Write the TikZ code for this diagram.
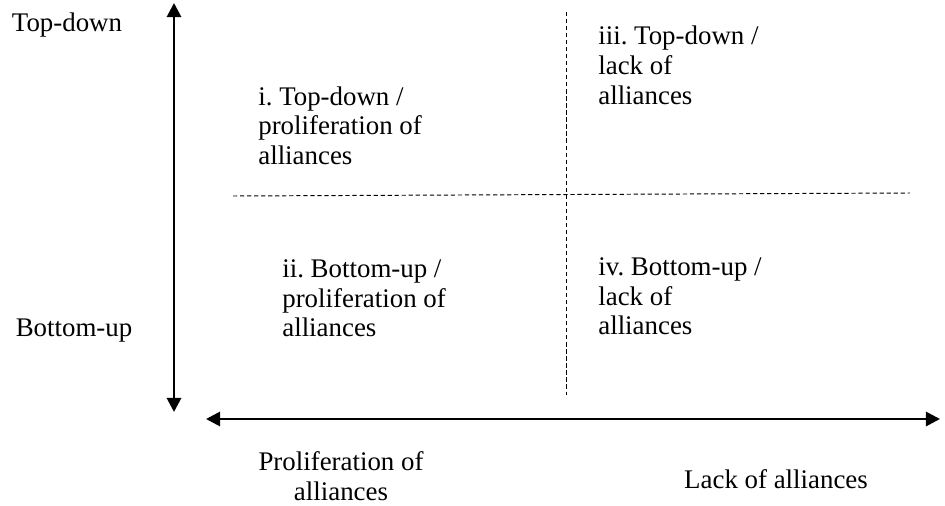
\documentclass[tikz,border=0pt]{standalone}
\usepackage{fontspec}
\setmainfont{Liberation Serif}
\frenchspacing
\usetikzlibrary{arrows.meta,positioning}
\tikzset{
  axisarrow/.style={{Triangle[length=8pt,width=8pt]}-{Triangle[length=8pt,width=8pt]},line width=1.6pt,black},
  splitline/.style={dash pattern=on 2.4pt off 1.6pt,line width=0.55pt,black},
  cellnote/.style={align=left,anchor=north west,inner sep=0pt},
  axisnote/.style={align=center,inner sep=0pt},
}

\begin{document}
\begin{tikzpicture}[x=0.02cm,y=-0.02cm,
  font=\fontsize{15.3}{17}\selectfont]
\useasboundingbox (0,0) rectangle (945,506);

% =================================================================
% axes
% =================================================================
\coordinate (vtop) at (174,3);
\coordinate (vbot) at (174,412);
\coordinate (hleft) at (206,419);
\coordinate (hright) at (940,419);
\draw[axisarrow] (vbot) -- (vtop);
\draw[axisarrow] (hleft) -- (hright);

% quadrant split
\coordinate (dl) at (233,196);
\coordinate (dr) at (910,193);
\coordinate (dt) at (566,12);
\coordinate (db) at (566,395);
\draw[splitline] (dl) -- (dr);
\draw[splitline] (dt) -- (db);

% =================================================================
% axis labels
% =================================================================
\node[axisnote] (topdown) at (67,25)  {Top-down};
\node[axisnote] (botup)   at (74,331) {Bottom-up};
\node[axisnote, anchor=north] (prolif) at (341,451) {Proliferation of\\alliances};
\node[axisnote] (lack)    at (776,479) {Lack of alliances};

% =================================================================
% quadrants
% =================================================================
\node[cellnote] (qi)   at (258,86)  {i. Top-down /\\proliferation of\\alliances};
\node[cellnote] (qiii) at (598,26)  {iii. Top-down /\\lack of\\alliances};
\node[cellnote] (qii)  at (282,259) {ii. Bottom-up /\\proliferation of\\alliances};
\node[cellnote] (qiv)  at (598,257) {iv. Bottom-up /\\lack of\\alliances};

\end{tikzpicture}
\end{document}
